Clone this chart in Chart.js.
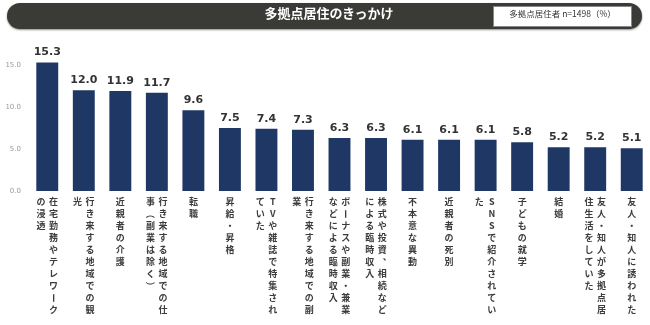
<!DOCTYPE html>
<html>
<head>
<meta charset="utf-8">
<script src="https://cdn.jsdelivr.net/npm/chart.js@4.4.0/dist/chart.umd.min.js"></script>
<style>
  body { margin: 0; background: #fff; }
  #wrap { position: relative; width: 650px; height: 325px; }
  #head {
    position: absolute; left: 7px; top: 3px; width: 635px; height: 26px;
    background: #3a3a36; border-radius: 13px;
    box-shadow: 0 1px 2px rgba(0,0,0,0.45);
  }
  #title {
    position: absolute; left: 255px; top: 0; width: 134px; height: 26px;
    line-height: 26px; text-align: center; color: #fff;
    font: bold 13px "Noto Sans CJK JP", sans-serif;
  }
  #note {
    position: absolute; left: 486px; top: 3px; width: 137px; height: 19px;
    background: #fff; border: 1px solid #888;
    line-height: 19px; text-align: center; color: #333;
    font: 8.5px "Noto Sans CJK JP", sans-serif;
  }
  canvas { position: absolute; left: 0; top: 0; }
</style>
</head>
<body>
<div id="wrap">
  <canvas id="c" width="650" height="325"></canvas>
  <div id="head">
    <div id="title">多拠点居住のきっかけ</div>
    <div id="note">多拠点居住者 n=1498（%）</div>
  </div>
</div>
<script>
const categories = [
  "在宅勤務やテレワークの浸透",
  "行き来する地域での観光",
  "近親者の介護",
  "行き来する地域での仕事（副業は除く）",
  "転職",
  "昇給・昇格",
  "TVや雑誌で特集されていた",
  "行き来する地域での副業",
  "ボーナスや副業・兼業などによる臨時収入",
  "株式や投資、相続などによる臨時収入",
  "不本意な異動",
  "近親者の死別",
  "SNSで紹介されていた",
  "子どもの就学",
  "結婚",
  "友人・知人が多拠点居住生活をしていた",
  "友人・知人に誘われた"
];
const values = [15.3, 12.0, 11.9, 11.7, 9.6, 7.5, 7.4, 7.3, 6.3, 6.3, 6.1, 6.1, 6.1, 5.8, 5.2, 5.2, 5.1];
const yTicks = [0, 5, 10, 15];

// value labels above the bars
const valueLabels = {
  id: "valueLabels",
  afterDatasetsDraw(chart) {
    const ctx = chart.ctx;
    const meta = chart.getDatasetMeta(0);
    ctx.save();
    ctx.font = "bold 11px 'DejaVu Sans', sans-serif";
    ctx.fillStyle = "#333";
    ctx.textAlign = "center";
    ctx.textBaseline = "alphabetic";
    meta.data.forEach((bar, i) => {
      ctx.fillText(values[i].toFixed(1), bar.x, bar.y - 7);
    });
    ctx.restore();
  }
};

// vertical (tategaki) category labels, 10 chars per column, right to left
const rotated = "ー（）";
const verticalLabels = {
  id: "verticalLabels",
  afterDraw(chart) {
    const ctx = chart.ctx;
    const xs = chart.scales.x;
    ctx.save();
    ctx.font = "bold 9px 'Noto Sans CJK JP', sans-serif";
    ctx.fillStyle = "#3c3c3c";
    ctx.textAlign = "center";
    ctx.textBaseline = "middle";
    categories.forEach((label, i) => {
      const x = xs.getPixelForValue(i);
      const chars = Array.from(label);
      const cols = [];
      for (let k = 0; k < chars.length; k += 10) cols.push(chars.slice(k, k + 10));
      cols.forEach((col, j) => {
        const cx = x + ((cols.length - 1) / 2 - j) * 12.5;
        col.forEach((ch, k) => {
          const cy = 202 + k * 12;
          if (rotated.includes(ch)) {
            ctx.save();
            ctx.translate(cx, cy);
            ctx.rotate(Math.PI / 2);
            ctx.fillText(ch, 0, 0);
            ctx.restore();
          } else if (ch === "、") {
            ctx.fillText(ch, cx + 5, cy - 5);
          } else {
            ctx.fillText(ch, cx, cy);
          }
        });
      });
    });
    ctx.restore();
  }
};

new Chart(document.getElementById("c").getContext("2d"), {
  type: "bar",
  data: {
    labels: categories,
    datasets: [{
      data: values,
      backgroundColor: "#1e3765",
      barPercentage: 0.6,
      categoryPercentage: 1.0
    }]
  },
  options: {
    responsive: false,
    animation: false,
    layout: { padding: { top: 44, left: 0, right: 0, bottom: 0 } },
    plugins: {
      legend: { display: false },
      tooltip: { enabled: false }
    },
    scales: {
      x: {
        grid: { display: false },
        border: { display: false },
        ticks: { display: false },
        afterFit: (s) => { s.height = 134; }
      },
      y: {
        min: 0,
        max: 17.5,
        grid: { display: false, drawTicks: false },
        border: { display: false },
        afterBuildTicks: (s) => { s.ticks = yTicks.map(v => ({ value: v })); },
        ticks: {
          padding: 8,
          color: "#999",
          font: { size: 7, family: "'DejaVu Sans', sans-serif" },
          callback: (v) => Number(v).toFixed(1)
        },
        afterFit: (s) => { s.width = 29; }
      }
    }
  },
  plugins: [valueLabels, verticalLabels]
});
</script>
</body>
</html>
